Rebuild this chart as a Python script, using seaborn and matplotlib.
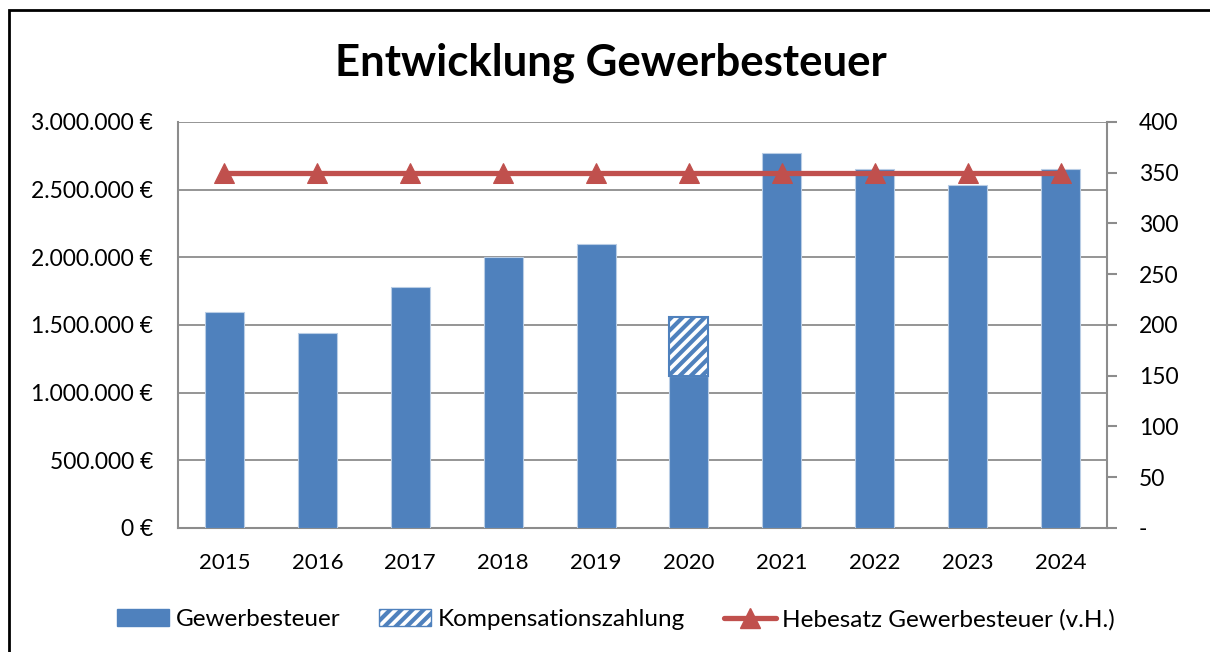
import numpy as np
import pandas as pd
import matplotlib
matplotlib.use('Agg')
import matplotlib.pyplot as plt
import matplotlib.ticker as mticker
from matplotlib.patches import Patch, Rectangle
from matplotlib.lines import Line2D
import seaborn as sns

# Data
years = ['2015', '2016', '2017', '2018', '2019', '2020', '2021', '2022', '2023', '2024']
gewerbesteuer = [1596000, 1441000, 1781000, 2003000, 2099000, 1123000, 2771000, 2653000, 2535000, 2653000]
kompensation = [0, 0, 0, 0, 0, 436000, 0, 0, 0, 0]
hebesatz = [350, 350, 350, 350, 350, 350, 350, 350, 350, 350]

df = pd.DataFrame({'Jahr': years, 'Gewerbesteuer': gewerbesteuer,
                   'Kompensation': kompensation, 'Hebesatz': hebesatz})

sns.set_style('white')
plt.rcParams['font.family'] = ['Lato', 'DejaVu Sans']
plt.rcParams['text.color'] = 'black'
plt.rcParams['xtick.labelcolor'] = 'black'
plt.rcParams['ytick.labelcolor'] = 'black'
plt.rcParams['hatch.linewidth'] = 3.0
plt.rcParams['hatch.color'] = '#4F81BD'

blue = '#4F81BD'
red = '#C0504D'
grid_col = '#8C8C8C'

fig = plt.figure(figsize=(12.1, 6.52), dpi=100)
ax = fig.add_axes([0.1471, 0.1902, 0.7678, 0.6227])

# main bars
sns.barplot(data=df, x='Jahr', y='Gewerbesteuer', color=blue, width=0.42,
            edgecolor='#B9CDE5', linewidth=0.8, saturation=1, ax=ax, zorder=3)

# compensation payment stacked on 2020
x = np.arange(len(years))
comp = df['Kompensation'].to_numpy()
mask = comp > 0
ax.bar(x[mask], comp[mask], bottom=df['Gewerbesteuer'].to_numpy()[mask], width=0.42,
       color='white', edgecolor=blue, hatch='///', linewidth=1.5, zorder=3)

ax.set_ylim(0, 3000000)
ax.set_xlim(-0.5, len(years) - 0.5)
ax.yaxis.set_major_locator(mticker.MultipleLocator(500000))
ax.yaxis.set_major_formatter(mticker.FuncFormatter(
    lambda v, p: '{:,.0f} €'.format(v).replace(',', '.')))
ax.grid(axis='y', color=grid_col, linewidth=1.3, zorder=0)
ax.set_axisbelow(True)
ax.set_xlabel('')
ax.set_ylabel('')
for s in ['left', 'bottom']:
    ax.spines[s].set_color(grid_col)
    ax.spines[s].set_linewidth(1.5)
ax.spines['top'].set_visible(False)
ax.spines['right'].set_visible(False)
ax.tick_params(axis='x', length=0, labelsize=16, pad=18)
ax.tick_params(axis='y', length=0, labelsize=16.5, pad=18)

# rate line on secondary axis
ax2 = ax.twinx()
sns.lineplot(x=x, y=df['Hebesatz'], color=red, linewidth=3.8, marker='^',
             markersize=15, markeredgecolor=red, ax=ax2, zorder=5)
ax2.set_ylim(0, 400)
ax2.set_xlim(-0.5, len(years) - 0.5)
ax2.yaxis.set_major_locator(mticker.MultipleLocator(50))
ax2.yaxis.set_major_formatter(mticker.FuncFormatter(
    lambda v, p: '-' if v == 0 else '{:.0f}'.format(v)))
ax2.set_ylabel('')
for s in ['left', 'top', 'bottom']:
    ax2.spines[s].set_visible(False)
ax2.spines['right'].set_color(grid_col)
ax2.spines['right'].set_linewidth(1.5)
ax2.tick_params(axis='y', which='major', direction='out', length=7, width=1.5,
                color=grid_col, labelsize=16.5, pad=16)

fig.text(0.505, 0.903, 'Entwicklung Gewerbesteuer', ha='center', va='center',
         fontsize=31.5, fontweight='bold')

handles = [
    Patch(facecolor=blue, edgecolor=blue),
    Patch(facecolor='white', edgecolor=blue, hatch='///'),
    Line2D([0], [0], color=red, linewidth=3.8, marker='^', markersize=15),
]
labels = ['Gewerbesteuer', 'Kompensationszahlung', 'Hebesatz Gewerbesteuer (v.H.)']
fig.legend(handles, labels, loc='center', bbox_to_anchor=(0.509, 0.05), ncol=3,
           frameon=False, fontsize=17.5, handlelength=2.15, handletextpad=0.25,
           columnspacing=1.6)

# outer chart border (runs off right and bottom edges)
fig.patches.append(Rectangle((8.5 / 1210, -0.05), 1.1, 1 - 9.5 / 652 + 0.05,
                             transform=fig.transFigure, fill=False,
                             edgecolor='black', linewidth=2))

fig.savefig('out.png', dpi=100)
